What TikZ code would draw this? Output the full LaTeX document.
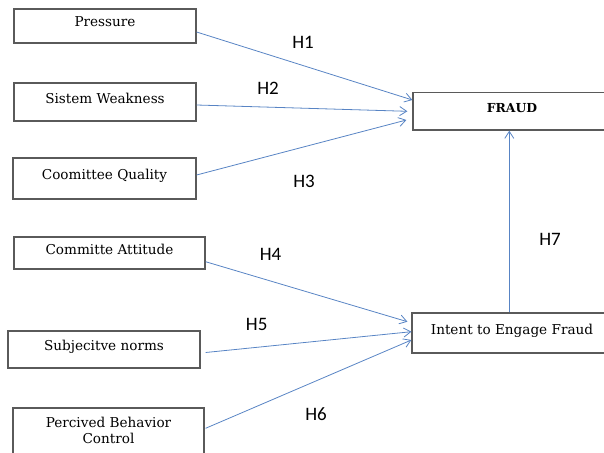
\documentclass[tikz,border=0pt]{standalone}
\usepackage{fontspec}
\usepackage{tikz}
\usetikzlibrary{shapes,arrows.meta,positioning,calc}
\setmainfont{DejaVu Serif}
\newfontfamily\hypfont{Carlito}
\definecolor{linkblue}{RGB}{88,132,196}
\definecolor{boxgray}{RGB}{90,90,90}

\begin{document}
\begin{tikzpicture}[
    x=1pt, y=-1pt,
    box/.style={rectangle, draw=boxgray, line width=1.2pt, align=center, font=\fontsize{13.6}{16}\selectfont},
    onebox/.style={box, text height=9.5pt, text depth=7.5pt},
    arrow/.style={-{Straight Barb[length=7pt,width=9pt]}, draw=linkblue, line width=0.8pt},
    hyp/.style={font=\hypfont\fontsize{19}{21}\selectfont}
]
    \useasboundingbox (0,0) rectangle (604,452);

    % left side
    \node[onebox, minimum width=182pt, minimum height=34pt] (press) at (105,26) {Pressure};
    \node[onebox, minimum width=182pt, minimum height=38pt] (weak) at (105,102) {Sistem Weakness};
    \node[onebox, minimum width=183pt, minimum height=41pt] (qual) at (104.5,178.5) {Coomittee Quality};
    \node[onebox, minimum width=191pt, minimum height=32pt] (att) at (109.5,253) {Committe Attitude};
    \node[onebox, minimum width=192pt, minimum height=37pt] (norms) at (104,349.5) {Subjecitve norms};
    \node[box, minimum width=191pt, minimum height=52pt, text depth=7.7pt] (pbc) at (108.5,434) {Percived Behavior\\Control};

    % right side
    \node[onebox, minimum width=198pt, minimum height=37.5pt, font=\fontsize{12.4}{14}\selectfont\bfseries] (fraud) at (512,111.3) {FRAUD};
    \node[onebox, minimum width=200pt, minimum height=40pt] (intent) at (512,333) {Intent to Engage Fraud};

    \draw[arrow] ([yshift=-6pt]press.east) -- ([yshift=11.3pt]fraud.west);
    \draw[arrow] ([yshift=-3pt]weak.east) -- ([xshift=-5pt]fraud.west);
    \draw[arrow] ([yshift=3.5pt]qual.east) -- ([xshift=-6pt,yshift=-8.7pt]fraud.west);
    \draw[arrow] ([yshift=-8.7pt]att.east) -- ([xshift=-4pt,yshift=11.3pt]intent.west);
    \draw[arrow] ([xshift=5pt,yshift=-3pt]norms.east) -- ([yshift=1.3pt]intent.west);
    \draw[arrow] ([xshift=1pt,yshift=5.7pt]pbc.east) -- ([yshift=-7pt]intent.west);
    \draw[arrow] ([xshift=-2.7pt]intent.north) -- ([xshift=-2.7pt]fraud.south);

    % hypotheses
    \node[hyp] (h1) at (303,42.5) {H1};
    \node[hyp] (h2) at (268,88.8) {H2};
    \node[hyp] (h3) at (304,181) {H3};
    \node[hyp] (h4) at (270.5,254) {H4};
    \node[hyp] (h5) at (256.7,324) {H5};
    \node[hyp] (h6) at (316,414) {H6};
    \node[hyp] (h7) at (550,239) {H7};
\end{tikzpicture}
\end{document}
